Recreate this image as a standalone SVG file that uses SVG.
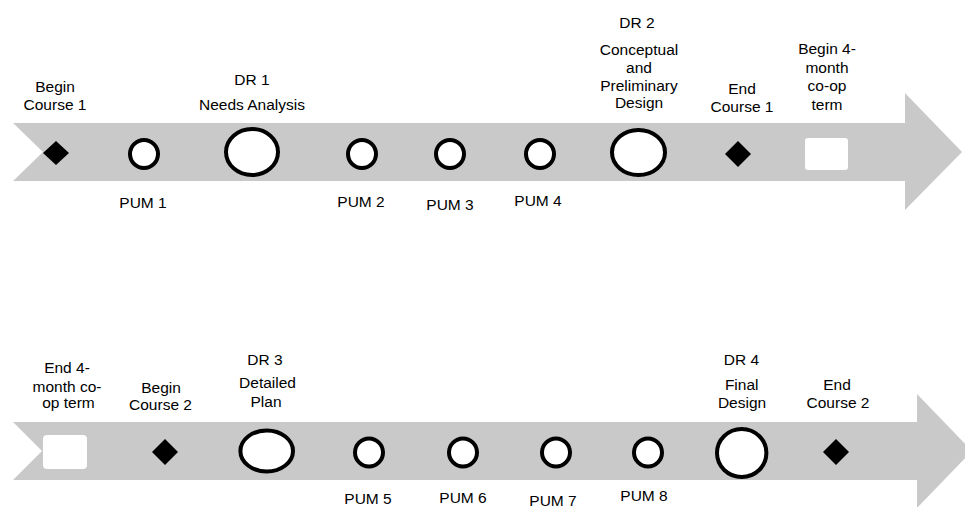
<svg xmlns="http://www.w3.org/2000/svg" width="965" height="507" viewBox="0 0 965 507">
<style>
.band{fill:#c9c9c9}
.pum{fill:#fff;stroke:#000;stroke-width:4}
.dr{fill:#fff;stroke:#000;stroke-width:4}
.dia{fill:#000}
.box{fill:#fff}
text{font-family:"Liberation Sans",Arial,sans-serif;font-size:15.5px;fill:#000;text-anchor:middle}
</style>
<rect width="965" height="507" fill="#fff"/>
<g id="connectors">
<path class="band" d="M13,123 L905,123 L905,93 L962,152 L905,210 L905,181 L13,181 L43,152 Z"/>
<path class="band" d="M13,422 L917,422 L917,394 L972,451 L917,508 L917,480 L13,480 L42,451 Z"/>
</g>
<!-- top row -->
<g id="begin-course-1">
<path class="dia" d="M56,141 L69,153 L56,165 L43,153 Z"/>
<text x="55" y="92">Begin</text>
<text x="55" y="110">Course 1</text>
</g>
<g id="pum-1">
<circle class="pum" cx="144" cy="154" r="14"/>
<text x="143" y="208">PUM 1</text>
</g>
<g id="dr-1">
<ellipse class="dr" cx="252" cy="152" rx="26" ry="23"/>
<text x="252" y="85">DR 1</text>
<text x="252" y="110">Needs Analysis</text>
</g>
<g id="pum-2">
<circle class="pum" cx="362" cy="154" r="14"/>
<text x="361" y="207">PUM 2</text>
</g>
<g id="pum-3">
<circle class="pum" cx="450" cy="154" r="14"/>
<text x="450" y="210">PUM 3</text>
</g>
<g id="pum-4">
<circle class="pum" cx="540" cy="154" r="14"/>
<text x="538" y="206">PUM 4</text>
</g>
<g id="dr-2">
<ellipse class="dr" cx="638.5" cy="152.5" rx="26.5" ry="22.5"/>
<text x="637" y="28">DR 2</text>
<text x="639" y="55">Conceptual</text>
<text x="639" y="72.7">and</text>
<text x="639" y="90.7">Preliminary</text>
<text x="639" y="108.3">Design</text>
</g>
<g id="end-course-1">
<path class="dia" d="M738,141 L751,154 L738,167 L725,154 Z"/>
<text x="742" y="94">End</text>
<text x="742" y="111.5">Course 1</text>
</g>
<g id="begin-coop">
<rect class="box" x="805" y="138" width="43" height="32" rx="3"/>
<text x="827" y="53.5">Begin 4-</text>
<text x="827" y="72.5">month</text>
<text x="827" y="91">co-op</text>
<text x="827" y="109.5">term</text>
</g>
<!-- bottom row -->
<g id="end-coop">
<rect class="box" x="43" y="435" width="44" height="34" rx="4"/>
<text x="67" y="372.7">End 4-</text>
<text x="67" y="391.5">month co-</text>
<text x="68.5" y="408.3">op term</text>
</g>
<g id="begin-course-2">
<path class="dia" d="M165,439 L178,452 L165,465 L152,452 Z"/>
<text x="161" y="393">Begin</text>
<text x="160.5" y="410">Course 2</text>
</g>
<g id="dr-3">
<ellipse class="dr" cx="266.7" cy="451" rx="26.3" ry="20.5"/>
<text x="265" y="365">DR 3</text>
<text x="267.5" y="388.3">Detailed</text>
<text x="266" y="406.7">Plan</text>
</g>
<g id="pum-5">
<circle class="pum" cx="369" cy="452.5" r="14"/>
<text x="368" y="504">PUM 5</text>
</g>
<g id="pum-6">
<circle class="pum" cx="463" cy="452.5" r="14"/>
<text x="463" y="503">PUM 6</text>
</g>
<g id="pum-7">
<circle class="pum" cx="556" cy="452.5" r="14"/>
<text x="553" y="505.5">PUM 7</text>
</g>
<g id="pum-8">
<circle class="pum" cx="648" cy="452.5" r="14"/>
<text x="644" y="501">PUM 8</text>
</g>
<g id="dr-4">
<ellipse class="dr" cx="741.7" cy="453" rx="24.7" ry="24"/>
<text x="741.5" y="365">DR 4</text>
<text x="741.7" y="390">Final</text>
<text x="742" y="408">Design</text>
</g>
<g id="end-course-2">
<path class="dia" d="M836,439 L849,452 L836,465 L823,452 Z"/>
<text x="837" y="390">End</text>
<text x="838" y="408">Course 2</text>
</g>
</svg>
